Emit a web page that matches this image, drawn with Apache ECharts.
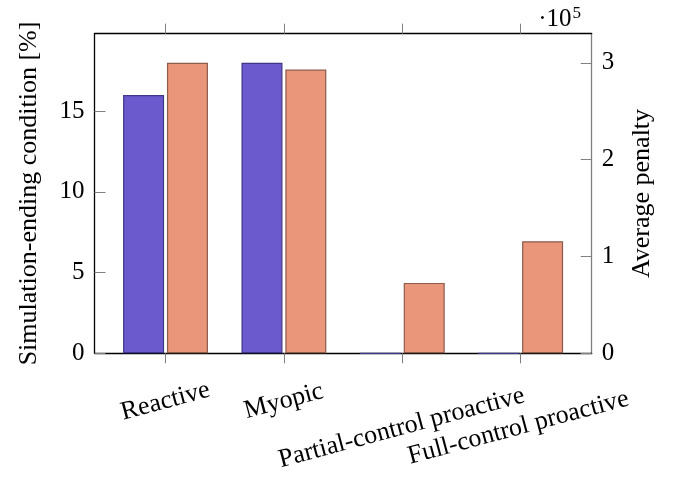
<!DOCTYPE html>
<html>
<head>
<meta charset="utf-8">
<script src="https://cdn.jsdelivr.net/npm/echarts@6/dist/echarts.min.js"></script>
<style>
html,body{margin:0;padding:0;background:#fff;}
#chart{width:680px;height:478px;}
</style>
</head>
<body>
<div id="chart"></div>
<script>
// ---- data ----
var categories = ['Reactive', 'Myopic', 'Partial-control proactive', 'Full-control proactive'];
var endingCondition = [16, 18, 0, 0];                 // Simulation-ending condition [%]
var averagePenalty = [300000, 293000, 72700, 115700]; // Average penalty
var leftTicks = [0, 5, 10, 15];
var rightTicks = [0, 100000, 200000, 300000];
var catPositions = [0, 1, 2, 3];

// ---- styles ----
var FONT = "'Liberation Serif', 'Times New Roman', 'DejaVu Serif', serif";
var labelPad = [[0, 0, 0, 0], [0, 0, 0, 0], [51, 15, 0, 0], [50, 18, 0, 0]];
var rich = {};
catPositions.forEach(function (i) {
  rich['c' + i] = { fontFamily: FONT, fontSize: 26, color: '#000', padding: labelPad[i] };
});

var chart = echarts.init(document.getElementById('chart'), null, { renderer: 'canvas' });
var gray = '#808080';
var option = {
  animation: false,
  backgroundColor: '#fff',
  grid: { left: 94.5, right: 88.3, top: 33.7, bottom: 124.7, containLabel: false },
  xAxis: [
    {
      type: 'value', position: 'bottom', min: -0.6, max: 3.6,
      axisLine: { show: true, onZero: false, lineStyle: { color: '#000', width: 1.3 } },
      axisTick: { show: true, inside: false, length: 10, customValues: catPositions, lineStyle: { color: gray, width: 1 } },
      axisLabel: {
        show: true, customValues: catPositions, rotate: 15, align: 'center', verticalAlign: 'middle', margin: 48,
        formatter: function (v) { var i = Math.round(v); return '{c' + i + '|' + categories[i] + '}'; },
        rich: rich
      },
      splitLine: { show: false }
    },
    {
      type: 'value', position: 'top', min: -0.6, max: 3.6,
      axisLine: { show: true, onZero: false, lineStyle: { color: '#000', width: 1.3 } },
      axisTick: { show: true, inside: false, length: 10, customValues: catPositions, lineStyle: { color: gray, width: 1 } },
      axisLabel: { show: false },
      splitLine: { show: false }
    }
  ],
  yAxis: [
    {
      type: 'value', position: 'left', min: 0, max: 19.8,
      name: 'Simulation-ending condition [%]', nameLocation: 'middle', nameRotate: 90, nameGap: 52,
      nameTextStyle: { fontFamily: FONT, fontSize: 26, color: '#000' },
      axisLine: { show: true, onZero: false, lineStyle: { color: '#000', width: 1.3 } },
      axisTick: { show: true, inside: true, length: 11, customValues: leftTicks, lineStyle: { color: gray, width: 1 } },
      axisLabel: { customValues: leftTicks, margin: 10, fontFamily: FONT, fontSize: 25, color: '#000' },
      splitLine: { show: false }
    },
    {
      type: 'value', position: 'right', min: 0, max: 330000,
      name: 'Average penalty', nameLocation: 'middle', nameRotate: 90, nameGap: 37,
      nameTextStyle: { fontFamily: FONT, fontSize: 26, color: '#000' },
      axisLine: { show: true, onZero: false, lineStyle: { color: gray, width: 1.3 } },
      axisTick: { show: true, inside: true, length: 11, customValues: rightTicks, lineStyle: { color: gray, width: 1 } },
      axisLabel: {
        customValues: rightTicks, margin: 10, fontFamily: FONT, fontSize: 25, color: '#000',
        formatter: function (v) { return String(Math.round(v / 100000)); }
      },
      splitLine: { show: false }
    }
  ],
  graphic: [
    {
      type: 'text', right: 99, top: 5,
      style: {
        text: '{a|·10}{b|5}',
        rich: {
          a: { fontFamily: FONT, fontSize: 25, color: '#000' },
          b: { fontFamily: FONT, fontSize: 17, color: '#000', verticalAlign: 'top', padding: [0, 0, 12, 1] }
        }
      }
    }
  ],
  series: [
    {
      name: 'Simulation-ending condition', type: 'bar', xAxisIndex: 0, yAxisIndex: 0,
      data: catPositions.map(function (i) { return [i, endingCondition[i]]; }),
      barWidth: 41, barGap: '7%',
      itemStyle: { color: '#6a5acd', borderColor: '#3e3686', borderWidth: 1.2 }
    },
    {
      name: 'Average penalty', type: 'bar', xAxisIndex: 0, yAxisIndex: 1,
      data: catPositions.map(function (i) { return [i, averagePenalty[i]]; }),
      barWidth: 41, barGap: '7%',
      itemStyle: { color: '#e9967a', borderColor: '#8d5b4b', borderWidth: 1.2 }
    }
  ]
};
chart.setOption(option);
</script>
</body>
</html>
